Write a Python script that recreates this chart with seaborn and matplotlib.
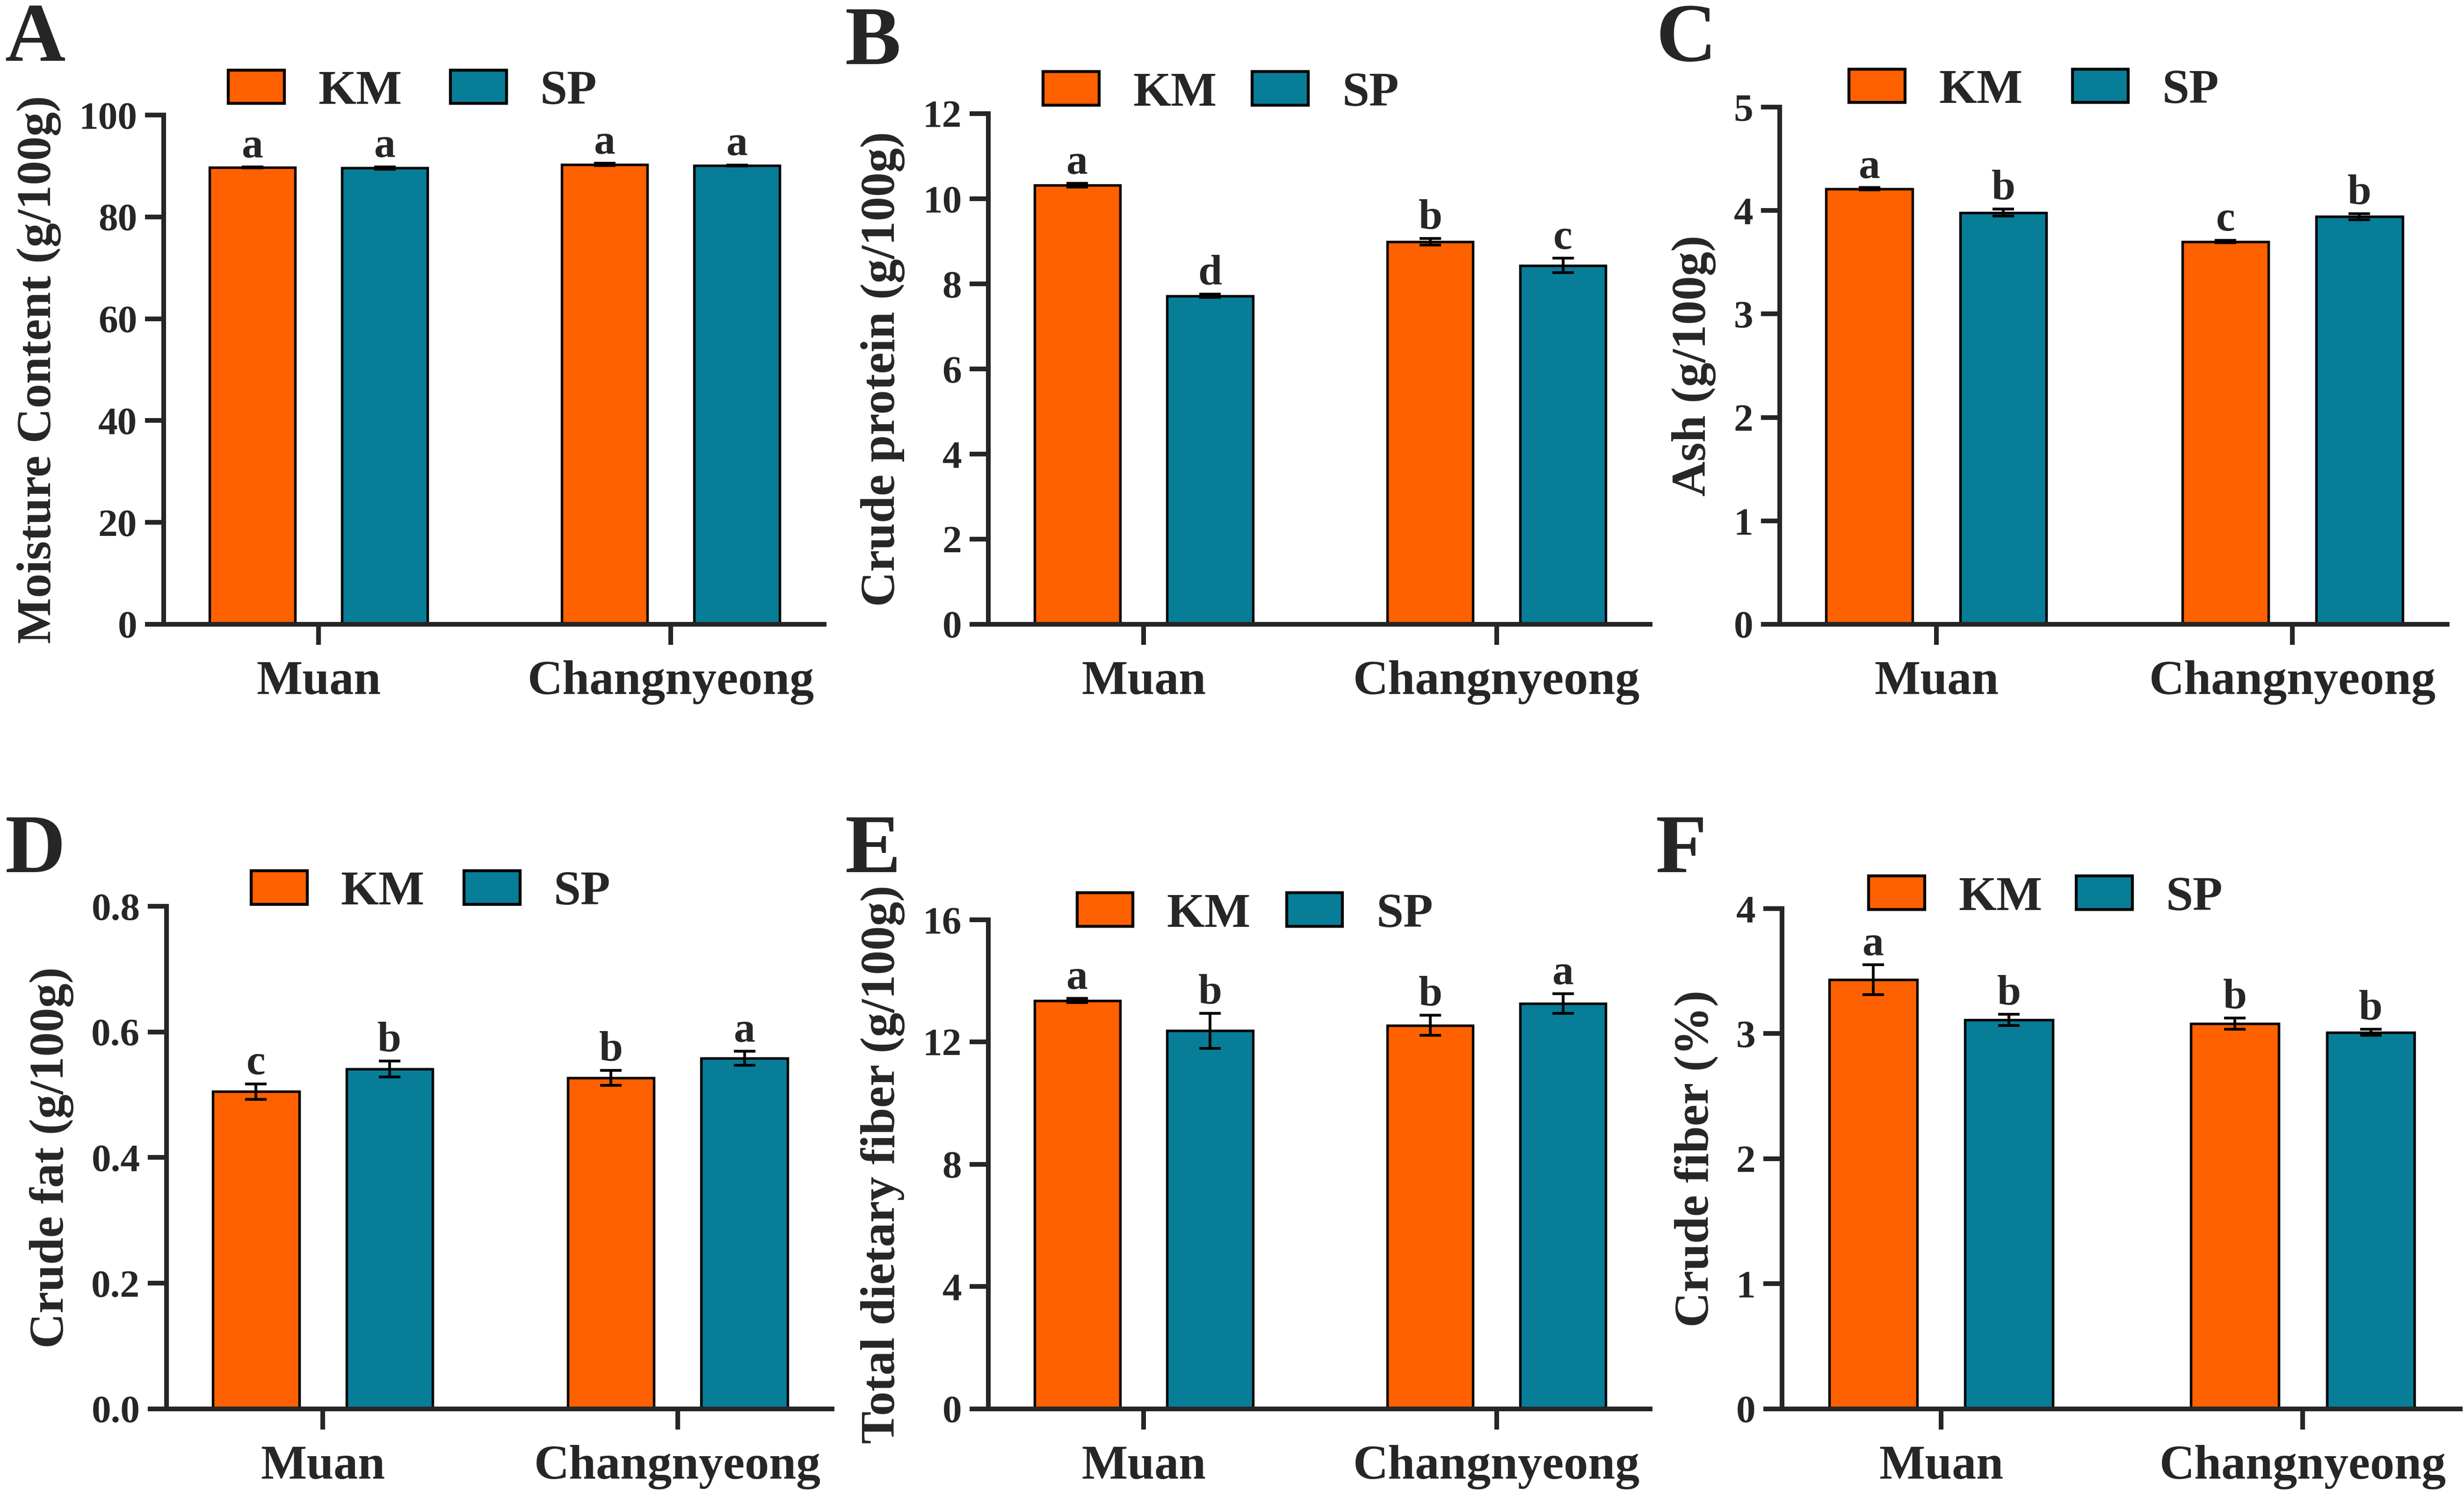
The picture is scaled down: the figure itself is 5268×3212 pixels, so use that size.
import numpy as np
import pandas as pd
import matplotlib
matplotlib.use("Agg")
import matplotlib.pyplot as plt
import seaborn as sns
from matplotlib.patches import Patch
from matplotlib.ticker import FormatStrFormatter

# ======================================
# DATA  (order inside each list: Muan, Changnyeong)
# ======================================
SITES = ["Muan", "Changnyeong"]
VARIETIES = ["KM", "SP"]
COLORS = {"KM": "#FF6000", "SP": "#087D98"}

moisture_km = [89.7, 90.3]
moisture_sp = [89.6, 90.1]
moisture_km_err = [0.1, 0.2]
moisture_sp_err = [0.25, 0.1]
moisture_km_sig = ["a", "a"]
moisture_sp_sig = ["a", "a"]

protein_km = [10.32, 8.99]
protein_sp = [7.72, 8.43]
protein_km_err = [0.04, 0.08]
protein_sp_err = [0.04, 0.17]
protein_km_sig = ["a", "b"]
protein_sp_sig = ["d", "c"]

ash_km = [4.21, 3.70]
ash_sp = [3.98, 3.94]
ash_km_err = [0.012, 0.012]
ash_sp_err = [0.035, 0.03]
ash_km_sig = ["a", "c"]
ash_sp_sig = ["b", "b"]

fat_km = [0.505, 0.527]
fat_sp = [0.541, 0.558]
fat_km_err = [0.012, 0.012]
fat_sp_err = [0.0125, 0.011]
fat_km_sig = ["c", "b"]
fat_sp_sig = ["b", "a"]

tdf_km = [13.36, 12.55]
tdf_sp = [12.37, 13.26]
tdf_km_err = [0.07, 0.33]
tdf_sp_err = [0.57, 0.32]
tdf_km_sig = ["a", "b"]
tdf_sp_sig = ["b", "a"]

cfiber_km = [3.43, 3.08]
cfiber_sp = [3.11, 3.01]
cfiber_km_err = [0.12, 0.046]
cfiber_sp_err = [0.044, 0.024]
cfiber_km_sig = ["a", "b"]
cfiber_sp_sig = ["b", "b"]

panels = [
    ("A", "Moisture Content (g/100g)", moisture_km, moisture_sp, moisture_km_err, moisture_sp_err,
     moisture_km_sig, moisture_sp_sig, [0, 20, 40, 60, 80, 100], "%d"),
    ("B", "Crude protein (g/100g)", protein_km, protein_sp, protein_km_err, protein_sp_err,
     protein_km_sig, protein_sp_sig, [0, 2, 4, 6, 8, 10, 12], "%d"),
    ("C", "Ash (g/100g)", ash_km, ash_sp, ash_km_err, ash_sp_err,
     ash_km_sig, ash_sp_sig, [0, 1, 2, 3, 4, 5], "%d"),
    ("D", "Crude fat (g/100g)", fat_km, fat_sp, fat_km_err, fat_sp_err,
     fat_km_sig, fat_sp_sig, [0.0, 0.2, 0.4, 0.6, 0.8], "%.1f"),
    ("E", "Total dietary fiber (g/100g)", tdf_km, tdf_sp, tdf_km_err, tdf_sp_err,
     tdf_km_sig, tdf_sp_sig, [0, 4, 8, 12, 16], "%d"),
    ("F", "Crude fiber (%)", cfiber_km, cfiber_sp, cfiber_km_err, cfiber_sp_err,
     cfiber_km_sig, cfiber_sp_sig, [0, 1, 2, 3, 4], "%d"),
]

# ======================================
# LAYOUT
# ======================================
# axes rectangles (left, bottom, width, height) in figure fraction
AX_POS = [
    [0.0664, 0.5844, 0.2680, 0.3390],
    [0.4011, 0.5844, 0.2686, 0.3399],
    [0.7223, 0.5844, 0.2709, 0.3443],
    [0.0676, 0.0620, 0.2701, 0.3346],
    [0.4011, 0.0620, 0.2686, 0.3256],
    [0.7232, 0.0620, 0.2752, 0.3331],
]
# legend anchor (axes fraction) and column spacing
LEG_POS = [(0.098, 1.045, 1.00), (0.083, 1.039, 0.73), (0.104, 1.031, 1.02),
           (0.127, 1.027, 0.81), (0.134, 1.010, 0.74), (0.128, 1.021, 0.70)]
# panel letter positions (figure fraction, top-left)
LETTER_POS = [(0.002, 0.998), (0.343, 0.996), (0.672, 0.998),
              (0.002, 0.458), (0.343, 0.458), (0.672, 0.458)]

W_PX, H_PX, DPI = 5268, 3212, 300
LW = 2.4

sns.set_style("ticks")
plt.rcParams["font.family"] = ["Liberation Serif", "DejaVu Serif"]
plt.rcParams["font.weight"] = "bold"
plt.rcParams["axes.labelweight"] = "bold"

fig = plt.figure(figsize=(W_PX / DPI, H_PX / DPI), dpi=DPI)

for i, (letter, ylabel, km, sp, km_err, sp_err, km_sig, sp_sig, yticks, fmt) in enumerate(panels):
    ax = fig.add_axes(AX_POS[i])
    df = pd.DataFrame({
        "site": SITES * 2,
        "variety": ["KM"] * 2 + ["SP"] * 2,
        "value": km + sp,
    })
    sns.barplot(data=df, x="site", y="value", hue="variety", order=SITES,
                hue_order=VARIETIES, palette=COLORS, saturation=1, width=0.752,
                gap=0.354, errorbar=None, edgecolor="black", linewidth=1.3,
                legend=False, ax=ax, zorder=2)

    errs = [km_err, sp_err]
    sigs = [km_sig, sp_sig]
    vals = [km, sp]
    bar_groups = list(ax.containers)
    for c, cont in enumerate(bar_groups):
        xs = [p.get_x() + p.get_width() / 2 for p in cont.patches]
        ax.errorbar(xs, vals[c], yerr=errs[c], fmt="none", ecolor="black",
                    elinewidth=1.4, capsize=5.5, capthick=1.4, zorder=3)
        for x, v, e, s in zip(xs, vals[c], errs[c], sigs[c]):
            ax.annotate(s, (x, v + e), xytext=(0, 5), textcoords="offset points",
                        ha="center", va="baseline", fontsize=22, fontweight="bold")

    ax.set_xlim(-0.44, 1.435)
    ax.set_ylim(yticks[0], yticks[-1])
    ax.set_yticks(yticks)
    ax.yaxis.set_major_formatter(FormatStrFormatter(fmt))
    ax.set_xlabel("")
    ax.set_ylabel(ylabel, fontsize=25, fontweight="bold", labelpad=9)

    sns.despine(ax=ax)
    for side in ["left", "bottom"]:
        ax.spines[side].set_linewidth(LW)
        ax.spines[side].set_capstyle("projecting")
    ax.tick_params(axis="y", direction="out", length=9.6, width=LW, pad=4, labelsize=20)
    ax.tick_params(axis="x", direction="out", length=10.6, width=LW, pad=8, labelsize=25)
    for t in ax.get_xticklabels() + ax.get_yticklabels():
        t.set_fontweight("bold")

    handles = [Patch(facecolor=COLORS[v], edgecolor="black", linewidth=1.5, label=v)
               for v in VARIETIES]
    lx, ly, cs = LEG_POS[i]
    ax.legend(handles=handles, loc="center left", bbox_to_anchor=(lx, ly), ncol=2,
              frameon=False, handlelength=1.15, handleheight=0.68,
              handletextpad=0.69, columnspacing=cs, borderpad=0, borderaxespad=0,
              prop={"weight": "bold", "size": 25})

    fig.text(LETTER_POS[i][0], LETTER_POS[i][1], letter, fontsize=43,
             fontweight="bold", ha="left", va="top")

fig.savefig("out.png", dpi=DPI)
